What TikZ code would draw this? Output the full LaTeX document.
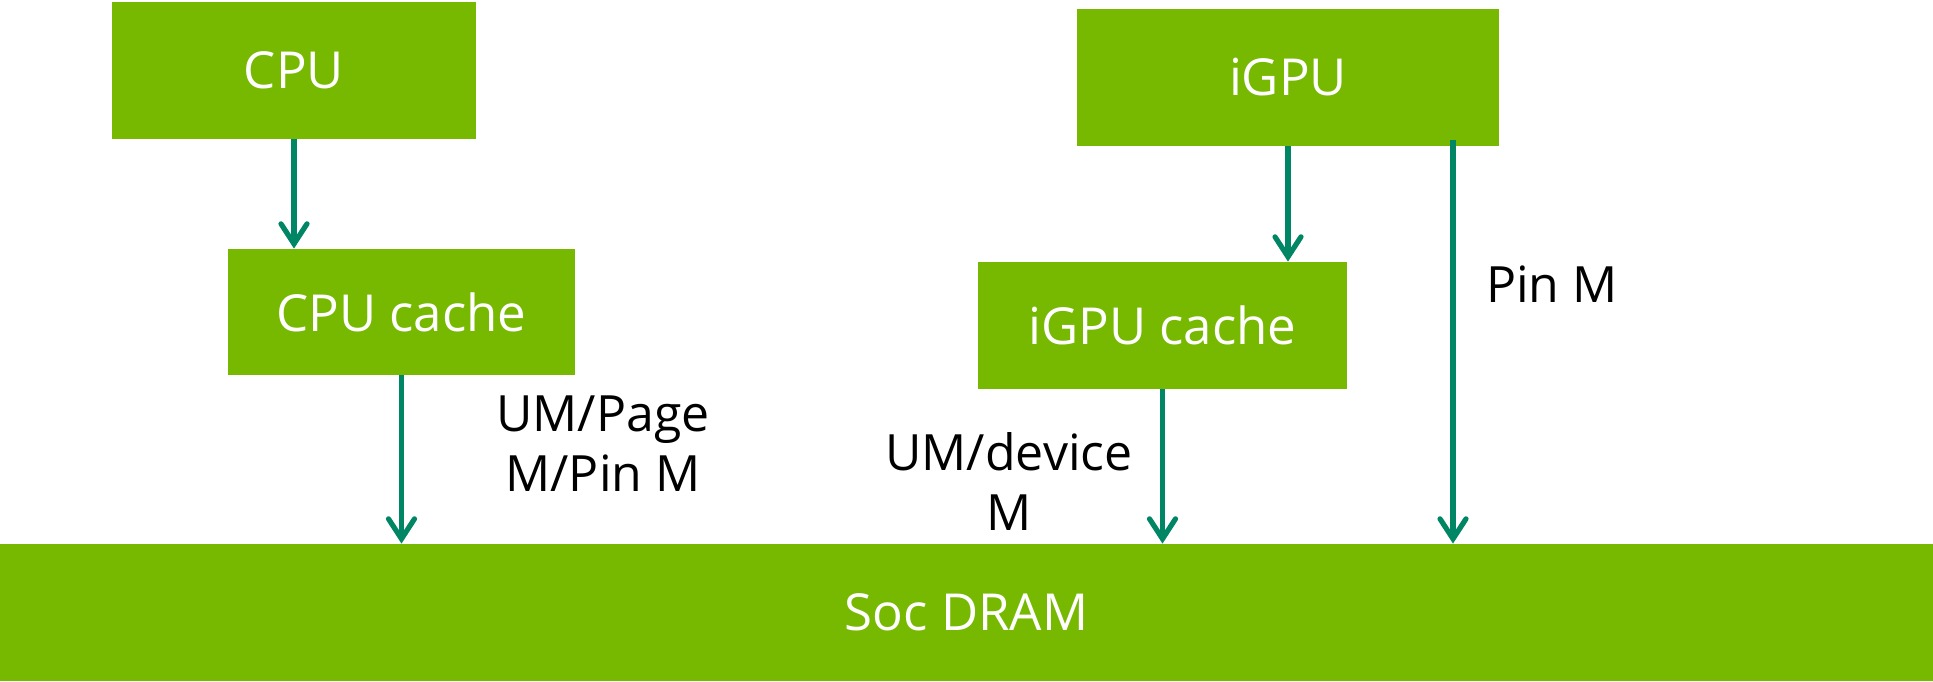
\documentclass[tikz,border=0pt]{standalone}
\usepackage{fontspec}
\setmainfont{Open Sans}
\usetikzlibrary{arrows.meta}
\definecolor{nvgreen}{RGB}{118,185,0}
\definecolor{flowteal}{RGB}{0,134,101}
\tikzset{
  block/.style={fill=nvgreen, draw=none, inner sep=0pt, text=white,
    font=\fontsize{25.5}{30}\selectfont},
  note/.style={inner sep=0pt, align=center, text=black,
    font=\fontsize{25}{30}\selectfont},
  flow/.style={draw=flowteal, line width=2.6pt,
    -{Straight Barb[length=10pt, width=13pt, line cap=round]}},
}
\begin{document}
\begin{tikzpicture}[x=0.5pt, y=-0.5pt]
  \useasboundingbox (0,0) rectangle (1933,681);

  % processing units and their caches
  \node[block, minimum width=182pt, minimum height=68.5pt] (cpu) at (294,70.5) {CPU};
  \node[block, minimum width=173.5pt, minimum height=63pt] (cpucache) at (401.5,312) {CPU cache};
  \node[block, minimum width=211pt, minimum height=68.5pt] (igpu) at (1288,77.5) {iGPU};
  \node[block, minimum width=184.5pt, minimum height=63.5pt] (igpucache) at (1162.5,325.5) {iGPU cache};

  % shared memory bar
  \node[block, minimum width=966.5pt, minimum height=68.5pt] (dram) at (966.5,612.5) {Soc DRAM};

  % access paths
  \draw[flow] (cpu.south) -- (cpu.south |- cpucache.north);
  \draw[flow] (cpucache.south) -- (cpucache.south |- dram.north);
  \draw[flow] (igpu.south) -- (igpu.south |- igpucache.north);
  \draw[flow] (igpucache.south) -- (igpucache.south |- dram.north);
  \coordinate (pinstart) at (1453,140);
  \draw[flow] (pinstart) -- (pinstart |- dram.north);

  % path labels
  \node[note] (lblcpu) at (603,444) {UM/Page\\M/Pin M};
  \node[note] (lbldev) at (1009,481.5) {UM/device\\M};
  \node[note] (lblpin) at (1552,284) {Pin M};
\end{tikzpicture}
\end{document}
